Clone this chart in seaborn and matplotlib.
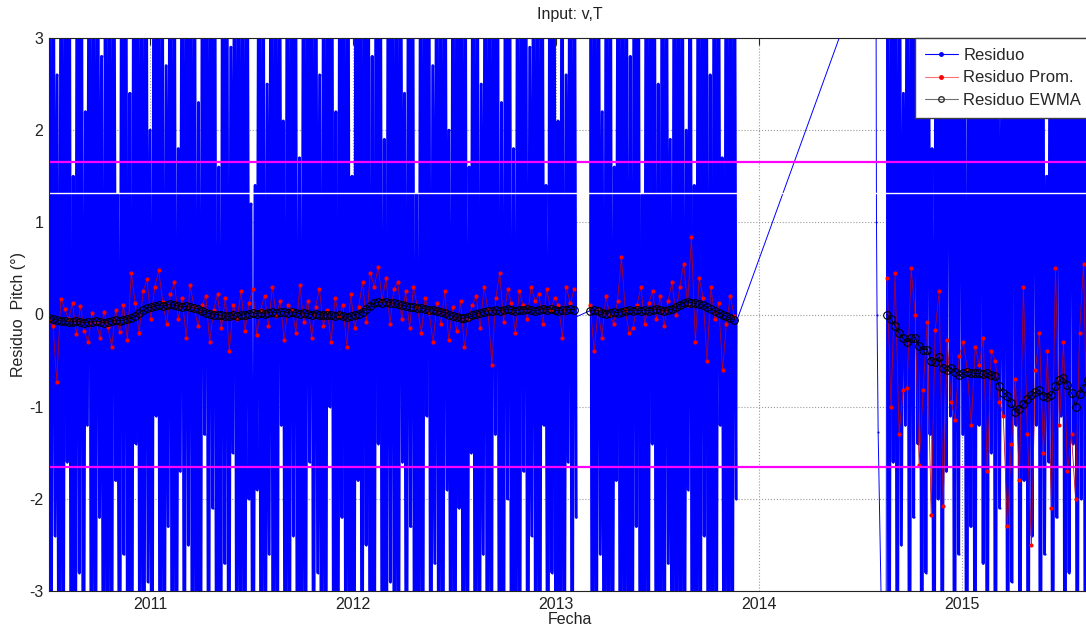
import numpy as np
import pandas as pd
import matplotlib
matplotlib.use("Agg")
import matplotlib.pyplot as plt
import matplotlib.dates as mdates
from matplotlib.lines import Line2D
import seaborn as sns

# ---- values ----
# dense residual blocks: (start, end) and the peaks reached by the residual (6 / -6 = beyond the axis)
seg_bounds = [("2010-07-03", "2013-02-02"), ("2013-03-03", "2013-11-17"), ("2014-08-19", "2015-08-22")]

resid_hi_1 = [6, 6, 2.6, 6, 6, 6, 1.5, 6, 6, 2.2, 6, 6, 6, 2.8, 6, 6, 6, 1.3, 6, 6, 2.4, 6, 6, 6, 6, 2.0, 6, 6, 6, 2.7,
              6, 6, 1.8, 6, 6, 6, 6, 2.3, 6, 6, 6, 6, 1.6, 6, 6, 2.9, 6, 6, 6, 6,
              1.2, 1.4, 6, 6, 2.5, 6, 6, 6, 2.1, 6, 6, 6, 1.7, 6, 6, 6, 6, 2.6, 6, 6,
              6, 2.2, 6, 6, 6, 1.5, 6, 6, 6, 6, 2.8, 6, 6, 1.9, 6, 6, 6, 6, 2.4, 6,
              6, 1.3, 6, 6, 6, 2.7, 6, 6, 6, 2.0, 6, 6, 6, 6, 1.6, 6, 6, 2.5, 6, 6,
              6, 6, 2.3, 6, 6, 1.8, 6, 6, 6, 2.9, 6, 6, 6, 1.4, 6, 6, 2.1, 6, 2.6, 6, 6]
resid_lo_1 = [-6, -2.4, -6, -6, -1.6, -6, -6, -2.8, -6, -1.2, -6, -6, -2.2, -6, -6, -6, -1.8, -6, -2.6, -6,
              -6, -1.4, -6, -6, -2.9, -6, -1.1, -6, -6, -2.3, -6, -6, -1.7, -6, -2.5, -6, -6, -6, -1.3, -6,
              -2.1, -6, -6, -2.7, -6, -1.5, -6, -6, -6, -2.0, -6, -1.9, -6, -6, -2.6, -6, -6, -1.2, -6, -6,
              -2.4, -6, -6, -6, -1.6, -6, -2.8, -6, -6, -1.0, -6, -6, -2.2, -6, -6, -6, -1.8, -6, -2.5, -6,
              -6, -1.4, -6, -6, -2.9, -6, -6, -1.6, -6, -2.3, -6, -6, -6, -1.1, -6, -2.7, -6, -6, -1.9, -6,
              -6, -2.1, -6, -6, -1.5, -6, -6, -2.6, -6, -6, -1.3, -6, -6, -2.0, -6, -6, -6, -1.7, -6, -2.4,
              -6, -6, -1.2, -6, -2.8, -6, -6, -6, -1.6, -6, -2.2]
resid_hi_2 = [6, 6, 6, 2.2, 6, 6, 1.6, 6, 6, 6, 2.8, 6, 6, 1.3, 6, 6, 6, 2.5, 6, 6, 1.9, 6, 6, 6, 2.0, 6, 1.4,
              6, 6, 6, 2.6, 6, 6, 1.7, 6, 6, 6]
resid_lo_2 = [-6, -6, -2.6, -6, -6, -6, -1.8, -6, -6, -6, -6, -2.3, -6, -6, -6, -1.4, -6, -6, -6, -2.7, -6, -6,
              -6, -6, -1.9, -6, -6, -6, -2.4, -6, -6, -6, -1.2, -6, -6, -6, -2.0]
resid_hi_3 = [6, 6, 6, 6, 2.4, 6, 6, 6, 6, 6, 6, 1.8, 6, 6, 6, 6, 6, 6, 6, 2.7, 6, 6, 6, 6, 6, 6, 6, 6, 2.2,
              6, 6, 6, 6, 6, 6, 6, 6, 6, 6, 1.5, 6, 6, 6, 6, 6, 6, 6, 6, 6, 6, 6]
resid_lo_3 = [-6, -1.6, -6, -2.5, -1.2, -6, -2.2, -1.4, -6, -2.8, -1.3, -6, -2.0, -6, -1.7, -1.1, -6, -2.6, -1.3,
              -6, -2.3, -6, -1.2, -2.7, -6, -1.5, -6, -2.1, -1.1, -6, -2.9, -1.2, -6, -1.8, -6, -2.4, -1.2, -6,
              -2.6, -1.6, -6, -2.2, -1.1, -6, -2.8, -1.4, -6, -2.0, -6, -1.3, -6]

# residual points inside the data gaps
gap1_dates = ["2013-02-04", "2013-03-02"]
gap1_vals = [-0.03, 0.04]
gap2_dates = ["2013-11-22", "2014-07-30", "2014-07-31", "2014-08-01", "2014-08-03", "2014-08-17"]
gap2_vals = [-0.06, 4.1, 1.0, 0.0, -1.28, -6.0]

# weekly mean residual (red) and EWMA (black), one list per block
prom_1 = [-0.07, -0.12, -0.73, 0.17, 0.06, -0.05, 0.12, -0.21, 0.09, -0.18,
          -0.30, 0.02, -0.08, -0.25, 0.03, -0.14, -0.35, 0.05, -0.19, 0.10,
          -0.28, 0.45, 0.12, -0.20, 0.25, 0.38, -0.05, 0.30, 0.48, 0.14,
          -0.10, 0.22, 0.35, -0.05, 0.18, -0.25, 0.32, 0.08, -0.12, 0.10,
          0.20, -0.30, 0.05, 0.22, -0.15, 0.18, -0.40, 0.10, -0.05, 0.25,
          -0.18, 0.12, 0.28, -0.22, 0.05, 0.20, -0.12, 0.30, -0.02, 0.15,
          -0.28, 0.10, 0.05, -0.20, 0.32, -0.08, 0.15, -0.25, 0.08, 0.28,
          -0.12, 0.05, -0.30, 0.18, -0.02, 0.10, -0.35, 0.22, -0.15, 0.08,
          0.35, -0.08, 0.45, 0.30, 0.52, 0.15, 0.40, -0.10, 0.28, 0.35,
          -0.05, 0.25, -0.15, 0.30, 0.08, -0.20, 0.18, 0.02, -0.30, 0.12,
          -0.10, 0.25, -0.28, 0.08, -0.18, 0.15, -0.35, -0.05, 0.10, 0.20,
          -0.15, 0.30, 0.05, -0.55, 0.18, 0.45, -0.08, 0.28, 0.12, -0.20,
          0.25, 0.10, -0.05, 0.30, 0.15, 0.22, -0.10, 0.28, 0.05, 0.18, 0.10, -0.25, 0.30, 0.12, 0.28]
ewma_1 = [-0.04, -0.05, -0.06, -0.07, -0.07, -0.08, -0.08, -0.07, -0.08, -0.09,
          -0.08, -0.08, -0.07, -0.08, -0.09, -0.08, -0.07, -0.06, -0.07, -0.06,
          -0.05, -0.04, -0.02, 0.02, 0.05, 0.07, 0.08, 0.09, 0.10, 0.09,
          0.10, 0.11, 0.10, 0.09, 0.08, 0.09, 0.08, 0.07, 0.06, 0.04,
          0.02, 0.01, 0.00, 0.00, -0.01, -0.02, -0.02, -0.01, -0.02, -0.01,
          0.00, 0.01, 0.02, 0.01, 0.02, 0.01, 0.02, 0.03, 0.02, 0.03,
          0.03, 0.02, 0.03, 0.02, 0.01, 0.02, 0.01, 0.00, 0.01, 0.00,
          -0.01, 0.00, -0.01, -0.02, -0.01, -0.02, -0.03, -0.02, -0.01, 0.01,
          0.03, 0.06, 0.09, 0.12, 0.14, 0.13, 0.14, 0.13, 0.12, 0.11,
          0.10, 0.09, 0.08, 0.08, 0.07, 0.07, 0.06, 0.05, 0.05, 0.04,
          0.03, 0.02, 0.00, -0.02, -0.03, -0.04, -0.04, -0.03, -0.01, 0.01,
          0.02, 0.03, 0.04, 0.04, 0.05, 0.04, 0.05, 0.06, 0.05, 0.04,
          0.05, 0.05, 0.06, 0.05, 0.04, 0.05, 0.06, 0.05, 0.06, 0.05, 0.04, 0.05, 0.05, 0.06, 0.05]
prom_2 = [0.10, -0.40, 0.05, -0.25, 0.20, 0.00, -0.10, 0.15, 0.62, 0.05,
          -0.20, -0.15, 0.10, 0.30, -0.10, 0.12, 0.25, -0.05, 0.20, -0.12,
          0.15, 0.35, 0.00, 0.30, 0.55, 0.10, 0.84, -0.30, 0.40, 0.18,
          -0.50, 0.30, -0.05, 0.12, -0.60, -0.10, 0.20, -0.02]
ewma_2 = [0.04, 0.05, 0.04, 0.02, 0.01, 0.02, 0.03, 0.02, 0.03, 0.04,
          0.05, 0.04, 0.05, 0.04, 0.05, 0.04, 0.05, 0.06, 0.05, 0.04,
          0.05, 0.06, 0.08, 0.10, 0.13, 0.14, 0.13, 0.12, 0.11, 0.10,
          0.08, 0.06, 0.04, 0.02, 0.00, -0.02, -0.04, -0.06]
prom_3 = [0.40, -1.00, 0.45, -1.30, -0.82, -0.80, 0.50, 0.00, -1.63, -0.82,
          -0.08, -2.18, -0.17, 0.25, -2.08, -0.28, -0.95, -1.14, -0.45, -0.30,
          -0.60, -1.20, -0.35, -0.55, -0.25, -1.70, -0.40, -0.50, -0.95, -1.10,
          -2.30, -1.40, -0.70, -1.80, 0.30, -1.30, -2.50, -0.60, -0.20, -1.50,
          -0.40, -2.10, 0.50, -1.20, -0.30, -1.70, -1.30, -2.00, -0.20, 0.55,
          -1.60, -0.30]
ewma_3 = [0.00, -0.05, -0.12, -0.20, -0.26, -0.30, -0.26, -0.25, -0.34, -0.38,
          -0.38, -0.50, -0.52, -0.46, -0.58, -0.60, -0.58, -0.62, -0.66, -0.64,
          -0.62, -0.63, -0.64, -0.64, -0.65, -0.64, -0.66, -0.67, -0.78, -0.85,
          -0.88, -0.96, -1.06, -1.02, -0.97, -0.92, -0.87, -0.84, -0.82, -0.88,
          -0.90, -0.87, -0.78, -0.71, -0.69, -0.76, -0.85, -1.00, -0.86, -0.80,
          -0.71, -0.72]

limit_sup = 1.65
limit_inf = -1.65
limit_blanco = 1.32


def bloque_residuo(start, end, hi, lo):
    t0, t1 = pd.Timestamp(start), pd.Timestamp(end)
    th = pd.date_range(t0, t1, periods=len(hi))
    half = (t1 - t0) / (len(hi) - 1) / 2
    tl = pd.date_range(t0 + half, t1 + half, periods=len(lo))
    df = pd.DataFrame({"fecha": list(th) + list(tl), "valor": list(hi) + list(lo)})
    return df.sort_values("fecha").reset_index(drop=True)


def semanal(start, end, vals, seg):
    t = pd.date_range(pd.Timestamp(start), pd.Timestamp(end), periods=len(vals))
    return pd.DataFrame({"fecha": t, "valor": vals, "seg": seg})


bloques = [bloque_residuo(*seg_bounds[0], resid_hi_1, resid_lo_1),
           bloque_residuo(*seg_bounds[1], resid_hi_2, resid_lo_2),
           bloque_residuo(*seg_bounds[2], resid_hi_3, resid_lo_3)]
gap1 = pd.DataFrame({"fecha": pd.to_datetime(gap1_dates), "valor": gap1_vals})
gap2 = pd.DataFrame({"fecha": pd.to_datetime(gap2_dates), "valor": gap2_vals})
residuo = pd.concat([bloques[0], gap1, bloques[1], gap2, bloques[2]], ignore_index=True)

prom = pd.concat([semanal(*seg_bounds[0], prom_1, 1), semanal(*seg_bounds[1], prom_2, 2),
                  semanal(*seg_bounds[2], prom_3, 3)], ignore_index=True)
ewma = pd.concat([semanal(*seg_bounds[0], ewma_1, 1), semanal(*seg_bounds[1], ewma_2, 2),
                  semanal(*seg_bounds[2], ewma_3, 3)], ignore_index=True)

sns.set_style("white")
plt.rcParams["font.family"] = ["Liberation Sans", "DejaVu Sans"]
plt.rcParams["axes.unicode_minus"] = False

fig = plt.figure(figsize=(10.86, 6.28), dpi=100)
ax = fig.add_axes([49 / 1086, 37 / 628, (1091 - 49) / 1086, 553 / 628])

azul = "#0000ff"
# thin continuous residual (also the strokes across the gaps)
sns.lineplot(data=residuo, x="fecha", y="valor", sort=False, estimator=None, color=azul,
             lw=0.7, marker=".", ms=3, mew=0, ax=ax, legend=False)
# the dense blocks read as an almost solid band
for b in bloques:
    sns.lineplot(data=b, x="fecha", y="valor", sort=False, estimator=None, color=azul,
                 lw=2.1, ax=ax, legend=False)

sns.lineplot(data=prom, x="fecha", y="valor", units="seg", estimator=None, sort=False,
             color="#b00020", lw=0.55, marker=".", ms=6, mec="red", mfc="red", mew=0,
             ax=ax, legend=False)
sns.lineplot(data=ewma, x="fecha", y="valor", units="seg", estimator=None, sort=False,
             color="black", lw=0.6, marker="o", ms=5.5, mfc="none", mec="black", mew=0.8,
             ax=ax, legend=False)

ax.axhline(limit_sup, color="#ff00ff", lw=1.6)
ax.axhline(limit_inf, color="#ff00ff", lw=1.6)
ax.axhline(limit_blanco, color="white", lw=1.0)

ax.set_xlim(pd.Timestamp("2010-07-03"), pd.Timestamp("2015-08-21"))
ax.set_ylim(-3, 3)
ax.set_yticks(range(-3, 4))
ax.xaxis.set_major_locator(mdates.YearLocator())
ax.xaxis.set_major_formatter(mdates.DateFormatter("%Y"))
ax.tick_params(direction="in", top=True, right=True, length=5, width=0.8,
               labelsize=11.5, pad=4, colors="#222222")
ax.grid(True, ls=":", color="#9a9a9a", lw=0.8)
ax.set_axisbelow(True)
for s in ax.spines.values():
    s.set_color("#222222")
    s.set_linewidth(0.8)

ax.set_title("Input: v,T", fontsize=11.5, pad=14, color="#222222")
ax.set_xlabel("Fecha", fontsize=11.5, labelpad=0, color="#222222")
ax.set_ylabel("Residuo  Pitch (°)", fontsize=11.5, labelpad=2, color="#222222")

handles = [Line2D([], [], color=azul, lw=0.8, marker=".", ms=5),
           Line2D([], [], color="#ff7070", lw=0.8, marker=".", ms=5, mfc="red", mec="red"),
           Line2D([], [], color="#707070", lw=0.8, marker="o", ms=4, mfc="none", mec="#303030")]
ax.legend(handles, ["Residuo", "Residuo Prom.", "Residuo EWMA"], loc="upper right",
          borderaxespad=0, frameon=True, fancybox=False, edgecolor="#404040", framealpha=1,
          fontsize=12, handlelength=2.0, handletextpad=0.3, labelspacing=0.45, borderpad=0.6)

fig.savefig("out.png", dpi=100)
